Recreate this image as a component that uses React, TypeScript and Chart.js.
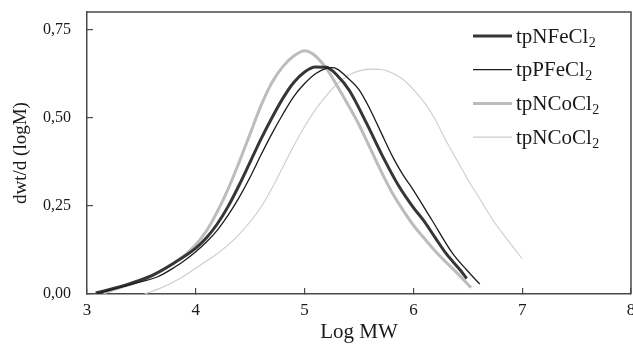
import React, { useEffect, useRef } from 'react';
import { Chart, registerables } from 'chart.js';

Chart.register(...registerables);

// ---- data ----
const seriesNames = ['tpNFeCl2', 'tpPFeCl2', 'tpNCoCl2', 'tpNCoCl2'];

const aX = [3.08, 3.2, 3.4, 3.6, 3.8, 4.0, 4.1, 4.2, 4.3, 4.4, 4.5, 4.6, 4.7, 4.8, 4.9, 5.0, 5.1, 5.2, 5.3, 5.41, 5.57, 5.72, 5.87, 6.0, 6.09, 6.2, 6.3, 6.43, 6.49];
const aY = [0.003, 0.012, 0.03, 0.053, 0.088, 0.13, 0.16, 0.2, 0.25, 0.31, 0.375, 0.44, 0.5, 0.555, 0.6, 0.63, 0.644, 0.643, 0.62, 0.578, 0.484, 0.389, 0.304, 0.245, 0.21, 0.16, 0.115, 0.068, 0.044];

const bX = [3.1, 3.3, 3.5, 3.65, 3.8, 3.9, 4.0, 4.1, 4.2, 4.3, 4.4, 4.5, 4.6, 4.7, 4.8, 4.9, 5.0, 5.1, 5.2, 5.25, 5.3, 5.4, 5.5, 5.6, 5.7, 5.81, 5.9, 5.98, 6.17, 6.36, 6.49, 6.61];
const bY = [0.002, 0.018, 0.035, 0.049, 0.075, 0.096, 0.12, 0.148, 0.182, 0.225, 0.275, 0.332, 0.395, 0.455, 0.51, 0.56, 0.597, 0.625, 0.64, 0.642, 0.638, 0.612, 0.58, 0.525, 0.46, 0.389, 0.34, 0.304, 0.21, 0.115, 0.068, 0.028];

const cX = [3.15, 3.4, 3.6, 3.84, 4.0, 4.1, 4.2, 4.3, 4.4, 4.5, 4.6, 4.7, 4.8, 4.9, 5.0, 5.08, 5.2, 5.3, 5.41, 5.5, 5.6, 5.7, 5.8, 5.9, 6.0, 6.1, 6.2, 6.3, 6.4, 6.53];
const cY = [0.003, 0.028, 0.052, 0.096, 0.14, 0.18, 0.235, 0.3, 0.375, 0.455, 0.535, 0.6, 0.645, 0.675, 0.69, 0.68, 0.64, 0.59, 0.531, 0.48, 0.415, 0.35, 0.29, 0.24, 0.195, 0.158, 0.122, 0.09, 0.06, 0.018];

const dX = [3.53, 3.7, 3.87, 4.08, 4.2, 4.3, 4.4, 4.5, 4.6, 4.7, 4.8, 4.9, 5.0, 5.1, 5.2, 5.3, 5.4, 5.5, 5.6, 5.7, 5.8, 5.9, 6.0, 6.12, 6.2, 6.3, 6.4, 6.5, 6.6, 6.73, 6.85, 7.0];
const dY = [0.0, 0.02, 0.047, 0.09, 0.115, 0.14, 0.17, 0.205, 0.247, 0.3, 0.36, 0.42, 0.475, 0.523, 0.563, 0.596, 0.62, 0.633, 0.638, 0.637, 0.628, 0.61, 0.58, 0.535, 0.495, 0.435, 0.38, 0.325, 0.275, 0.21, 0.16, 0.10];

const xTicks = [3, 4, 5, 6, 7, 8];
const yTicks = [0, 0.25, 0.5, 0.75];
const yTickLabels = ['0,00', '0,25', '0,50', '0,75'];

const xTitle = 'Log MW';
const yTitle = 'dwt/d (logM)';

// ---- styles ----
const colors = ['#363636', '#1c1c1c', '#bcbcbc', '#cdcdcd'];
const widths = [3, 1.3, 3, 1.1];
const FONT = '"Liberation Serif", "Times New Roman", serif';
const AXIS = '#4a4a4a';

const toPts = (xs: number[], ys: number[]) => xs.map((x, i) => ({ x, y: ys[i] }));

const framePlugin = {
  id: 'frameLegend',
  afterDraw(chart: any) {
    const { ctx, chartArea: a } = chart;
    ctx.save();
    ctx.strokeStyle = AXIS;
    ctx.lineWidth = 1.5;
    ctx.beginPath();
    ctx.moveTo(a.left, a.top);
    ctx.lineTo(a.right, a.top);
    ctx.lineTo(a.right, a.bottom);
    ctx.stroke();

    // legend (inside, top-right)
    const x0 = a.right - 158;
    const lineLen = 39;
    const y0 = a.top + 24;
    const step = 33.7;
    chart.data.datasets.forEach((ds: any, i: number) => {
      const y = y0 + i * step;
      ctx.strokeStyle = ds.borderColor;
      ctx.lineWidth = ds.borderWidth;
      ctx.beginPath();
      ctx.moveTo(x0, y);
      ctx.lineTo(x0 + lineLen, y);
      ctx.stroke();
      const name: string = seriesNames[i];
      const base = name.slice(0, -1);
      const sub = name.slice(-1);
      ctx.fillStyle = '#1a1a1a';
      ctx.textBaseline = 'alphabetic';
      ctx.textAlign = 'left';
      ctx.font = `21px ${FONT}`;
      const tx = x0 + lineLen + 4;
      const baseY = y + 6.5;
      ctx.fillText(base, tx, baseY);
      const w = ctx.measureText(base).width;
      ctx.font = `14px ${FONT}`;
      ctx.fillText(sub, tx + w + 0.5, baseY + 4);
    });
    ctx.restore();
  },
};

export default function App() {
  const ref = useRef<HTMLCanvasElement | null>(null);
  useEffect(() => {
    if (!ref.current) return;
    const datasets = [
      [aX, aY],
      [bX, bY],
      [cX, cY],
      [dX, dY],
    ].map(([xs, ys], i) => ({
      label: seriesNames[i],
      data: toPts(xs as number[], ys as number[]),
      borderColor: colors[i],
      borderWidth: widths[i],
      pointRadius: 0,
      fill: false,
      cubicInterpolationMode: 'monotone' as const,
    }));
    const order = [3, 2, 0, 1];
    datasets.forEach((d: any, i) => (d.order = -order.indexOf(i)));

    const chart = new Chart(ref.current, {
      type: 'line',
      data: { datasets },
      options: {
        animation: false,
        responsive: false,
        layout: { padding: { top: 12, right: 2, bottom: 0, left: 0 } },
        plugins: { legend: { display: false }, tooltip: { enabled: false } },
        scales: {
          x: {
            type: 'linear',
            min: 3,
            max: 8,
            afterBuildTicks: (s: any) => {
              s.ticks = xTicks.map((v) => ({ value: v }));
            },
            afterFit: (s: any) => {
              s.height = 54;
              s.paddingLeft = 0;
              s.paddingRight = 0;
            },
            grid: { drawOnChartArea: false, drawTicks: true, tickLength: -6, color: AXIS, lineWidth: 1.2 },
            border: { display: true, color: AXIS, width: 1.5 },
            ticks: {
              padding: 12,
              color: '#1a1a1a',
              font: { family: FONT, size: 17 },
              maxRotation: 0,
              autoSkip: false,
              callback: (v: any) => String(v),
            },
            title: {
              display: true,
              text: xTitle,
              color: '#1a1a1a',
              font: { family: FONT, size: 21 },
              padding: { top: 0, bottom: 3 },
            },
          },
          y: {
            type: 'linear',
            min: 0,
            max: 0.8,
            afterBuildTicks: (s: any) => {
              s.ticks = yTicks.map((v) => ({ value: v }));
            },
            afterFit: (s: any) => {
              s.width = 87;
              s.paddingTop = 0;
              s.paddingBottom = 0;
            },
            grid: { drawOnChartArea: false, drawTicks: true, tickLength: -6, color: AXIS, lineWidth: 1.2 },
            border: { display: true, color: AXIS, width: 1.5 },
            ticks: {
              padding: 22,
              color: '#1a1a1a',
              font: { family: FONT, size: 16 },
              autoSkip: false,
              callback: (v: any) => {
                const k = yTicks.indexOf(Number(v));
                return k >= 0 ? yTickLabels[k] : '';
              },
            },
            title: {
              display: true,
              text: yTitle,
              color: '#1a1a1a',
              font: { family: FONT, size: 19 },
              padding: { top: 10, bottom: 0 },
            },
          },
        },
      },
      plugins: [framePlugin],
    });
    return () => chart.destroy();
  }, []);

  return (
    <div style={{ position: 'absolute', left: 0, top: 0, width: 633, height: 348, background: '#fff' }}>
      <canvas ref={ref} width={633} height={348} style={{ display: 'block' }} />
    </div>
  );
}
